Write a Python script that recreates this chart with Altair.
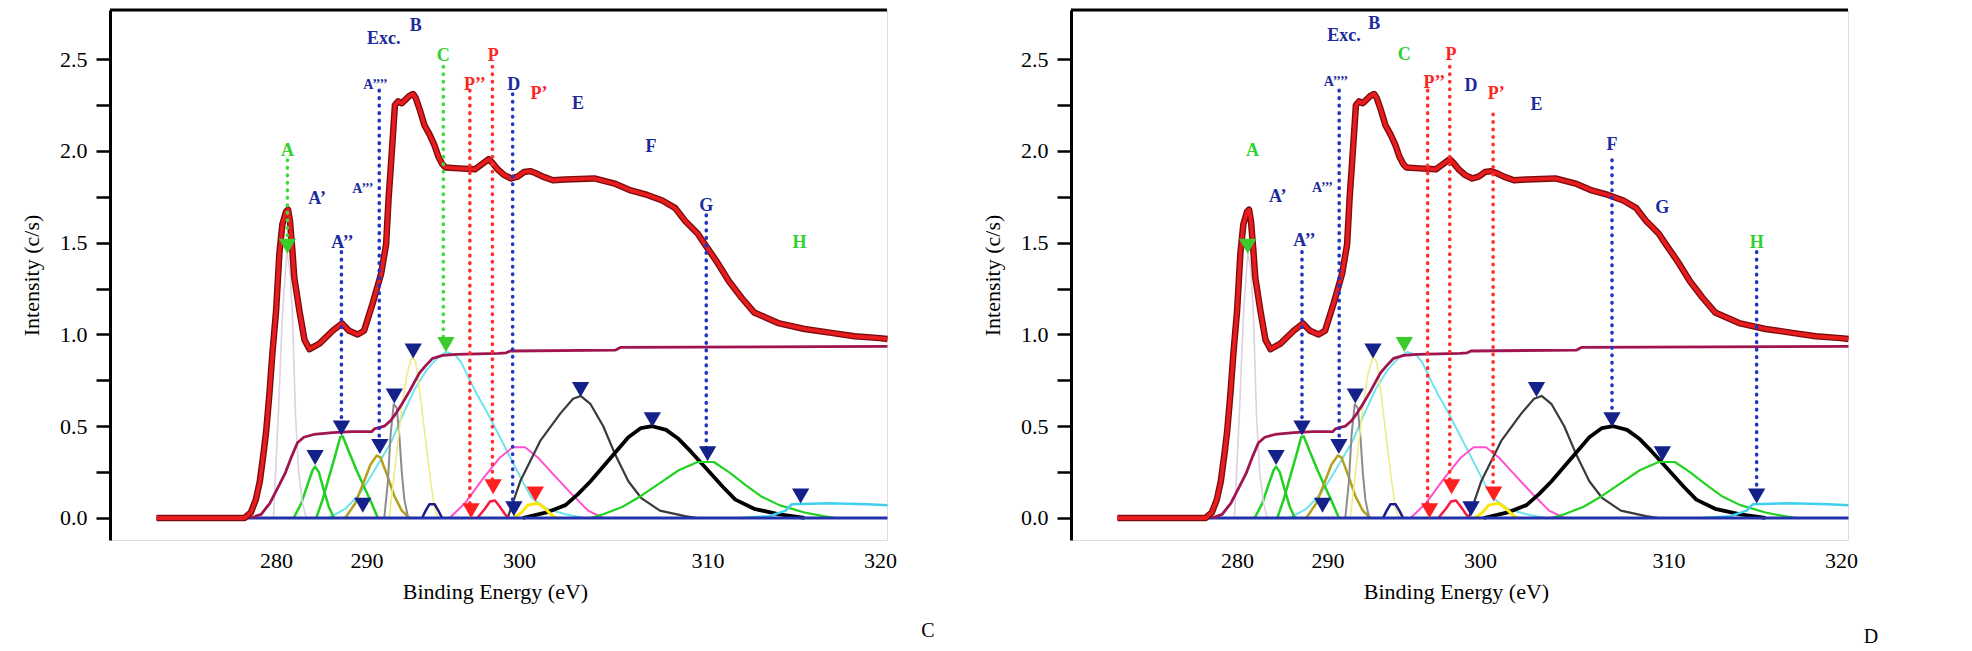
import altair as alt
import pandas as pd

# ---------------- data (binding energy eV, intensity c/s) ----------------
SPECTRUM = [(276.40, 0.00), (279.05, 0.00), (279.24, 0.03), (279.39, 0.10), (279.51, 0.20), (279.62, 0.35),
            (279.70, 0.47), (279.80, 0.68), (279.89, 0.90), (280.00, 1.13), (280.36, 1.44), (280.69, 1.60),
            (281.11, 1.67), (281.32, 1.68), (281.53, 1.62), (281.81, 1.45), (282.01, 1.31), (282.57, 1.13),
            (283.14, 0.97), (283.69, 0.92), (284.79, 0.95), (286.25, 1.02), (287.28, 1.06), (288.06, 1.02),
            (289.01, 1.00), (289.72, 1.02), (290.40, 1.17), (290.95, 1.33), (291.28, 1.49), (291.45, 1.75),
            (291.57, 1.89), (291.74, 2.10), (291.86, 2.25), (292.07, 2.27), (292.31, 2.26), (292.56, 2.28),
            (292.81, 2.30), (293.06, 2.31), (293.22, 2.29), (293.51, 2.22), (293.80, 2.14), (294.13, 2.09),
            (294.46, 2.03), (294.71, 1.97), (294.96, 1.93), (295.17, 1.91), (296.03, 1.905), (297.11, 1.90),
            (297.60, 1.93), (298.02, 1.955), (298.26, 1.935), (298.60, 1.90), (299.01, 1.87), (299.50, 1.85),
            (299.92, 1.86), (300.27, 1.885), (300.60, 1.89), (300.87, 1.88), (301.27, 1.86), (301.80, 1.84),
            (302.47, 1.845), (304.00, 1.85), (305.13, 1.82), (305.93, 1.785), (306.80, 1.76), (307.60, 1.73),
            (308.27, 1.69), (308.80, 1.62), (309.47, 1.55), (309.93, 1.48), (310.51, 1.40), (311.24, 1.29),
            (311.97, 1.20), (312.70, 1.12), (313.43, 1.09), (314.16, 1.06), (315.62, 1.03), (317.08, 1.01),
            (318.54, 0.99), (320.00, 0.98), (320.44, 0.975)]

BACKGROUND = [(279.24, 0.00), (279.55, 0.02), (279.81, 0.08), (280.14, 0.16), (280.97, 0.24), (281.67, 0.33),
              (282.36, 0.41), (283.06, 0.44), (284.17, 0.455), (286.25, 0.465), (288.33, 0.47), (290.33, 0.47),
              (290.50, 0.485), (291.16, 0.50), (291.57, 0.53), (291.93, 0.57), (292.31, 0.62), (292.81, 0.69),
              (293.14, 0.74), (293.47, 0.79), (293.88, 0.83), (294.34, 0.87), (295.00, 0.886), (295.87, 0.891),
              (298.68, 0.897), (299.17, 0.90), (299.42, 0.91), (305.13, 0.915), (305.40, 0.93), (320.44, 0.935)]

BASELINE = [(276.40, 0.0), (320.44, 0.0)]

PEAK_A = [(279.92, 0.0), (280.28, 0.6), (280.69, 1.1), (281.18, 1.45), (281.53, 1.35), (281.81, 1.1),
          (282.15, 0.55), (282.50, 0.25), (282.92, 0.08), (283.33, 0.0)]
PEAK_A1 = [(281.94, 0.0), (282.78, 0.08), (283.47, 0.18), (284.03, 0.26), (284.31, 0.28), (284.72, 0.25),
           (285.28, 0.15), (285.83, 0.06), (286.39, 0.0)]
PEAK_A2 = [(284.44, 0.0), (285.14, 0.10), (285.83, 0.22), (286.53, 0.34), (287.08, 0.44), (287.36, 0.445),
           (288.06, 0.36), (288.89, 0.26), (289.72, 0.17), (290.33, 0.08), (290.74, 0.0)]
PEAK_A3 = [(287.64, 0.0), (288.75, 0.08), (289.72, 0.20), (290.25, 0.29), (290.66, 0.34), (290.91, 0.33),
           (291.32, 0.24), (291.82, 0.12), (292.31, 0.04), (292.81, 0.0)]
PEAK_A4 = [(291.16, 0.0), (291.40, 0.20), (291.57, 0.45), (291.78, 0.62), (291.98, 0.60), (292.15, 0.45),
           (292.31, 0.25), (292.48, 0.10), (292.73, 0.0)]
PEAK_EXC = [(291.49, 0.0), (291.90, 0.30), (292.31, 0.60), (292.64, 0.78), (292.98, 0.88), (293.22, 0.85),
            (293.55, 0.65), (293.88, 0.42), (294.21, 0.20), (294.46, 0.05), (294.71, 0.0)]
PEAK_B = [(293.64, 0.0), (293.88, 0.04), (294.13, 0.075), (294.46, 0.075), (294.71, 0.04), (294.96, 0.0)]
PEAK_C = [(285.83, 0.0), (287.64, 0.05), (289.03, 0.12), (290.08, 0.20), (290.66, 0.28), (291.16, 0.35),
          (291.65, 0.42), (292.31, 0.55), (293.14, 0.70), (293.97, 0.81), (294.63, 0.87), (295.21, 0.904),
          (295.79, 0.89), (296.20, 0.85), (296.78, 0.75), (297.27, 0.67), (297.85, 0.586), (298.76, 0.44),
          (299.64, 0.296), (300.24, 0.19), (300.67, 0.11), (301.47, 0.05), (302.47, 0.02), (303.47, 0.0)]
PEAK_D = [(295.45, 0.0), (296.45, 0.08), (297.69, 0.22), (298.76, 0.33), (299.59, 0.385), (300.33, 0.385),
          (301.00, 0.33), (301.80, 0.24), (302.80, 0.13), (303.67, 0.04), (304.47, 0.0)]
PEAK_P = [(297.27, 0.0), (297.77, 0.05), (298.10, 0.09), (298.43, 0.095), (298.76, 0.06), (299.09, 0.02),
          (299.34, 0.0)]
PEAK_P1 = [(299.67, 0.0), (300.13, 0.03), (300.47, 0.07), (301.00, 0.08), (301.40, 0.05), (301.80, 0.01),
           (302.00, 0.0)]
PEAK_E = [(299.26, 0.0), (300.07, 0.20), (301.13, 0.42), (302.20, 0.57), (302.87, 0.65), (303.27, 0.665),
          (303.80, 0.62), (304.47, 0.50), (305.13, 0.34), (305.80, 0.20), (306.47, 0.11), (307.47, 0.04),
          (308.80, 0.01), (309.47, 0.0)]
PEAK_F = [(300.20, 0.0), (301.47, 0.03), (302.47, 0.07), (303.13, 0.13), (303.80, 0.20), (304.47, 0.28),
          (305.13, 0.36), (305.80, 0.44), (306.47, 0.49), (307.07, 0.50), (307.80, 0.48), (308.47, 0.43),
          (309.13, 0.36), (309.93, 0.27), (310.88, 0.17), (311.61, 0.10), (312.70, 0.05), (314.16, 0.02),
          (315.62, 0.0)]
PEAK_G = [(303.80, 0.0), (304.47, 0.02), (305.47, 0.06), (306.47, 0.12), (307.47, 0.19), (308.47, 0.26),
          (309.47, 0.305), (310.36, 0.305), (311.24, 0.25), (312.19, 0.18), (313.07, 0.12), (314.16, 0.07),
          (315.62, 0.03), (316.72, 0.01), (317.45, 0.0)]
PEAK_H = [(311.97, 0.0), (313.58, 0.01), (314.53, 0.04), (314.89, 0.075), (317.08, 0.08), (319.27, 0.075),
          (320.44, 0.07)]

# annotation labels: (text, eV, intensity, colour key)
LEFT_LABELS = [("A", 281.25, 2.00, "g"), ("A’", 284.54, 1.74, "b"), ("A’’", 287.32, 1.50, "b"),
               ("Exc.", 291.12, 2.61, "b"), ("B", 293.22, 2.68, "b"), ("C", 295.04, 2.52, "g"),
               ("P’’", 297.11, 2.36, "r"), ("P", 298.32, 2.52, "r"), ("D", 299.67, 2.36, "b"),
               ("P’", 301.07, 2.31, "r"), ("E", 303.13, 2.255, "b"), ("F", 307.00, 2.02, "b"),
               ("G", 309.93, 1.70, "b"), ("H", 315.33, 1.50, "g")]
LEFT_SMALL = [("A’’’", 289.58, 1.79, "b"), ("A’’’’", 290.58, 2.36, "b")]
RIGHT_LABELS = [("A", 281.71, 2.00, "g"), ("A’", 284.49, 1.75, "b"), ("A’’", 287.43, 1.51, "b"),
                ("Exc.", 291.07, 2.625, "b"), ("B", 293.06, 2.69, "b"), ("C", 295.04, 2.525, "g"),
                ("P’’", 297.01, 2.37, "r"), ("P", 298.10, 2.525, "r"), ("D", 299.42, 2.355, "b"),
                ("P’", 300.87, 2.31, "r"), ("E", 303.00, 2.25, "b"), ("F", 307.00, 2.03, "b"),
                ("G", 309.67, 1.69, "b"), ("H", 315.11, 1.50, "g")]
RIGHT_SMALL = [("A’’’", 289.44, 1.80, "b"), ("A’’’’", 290.55, 2.375, "b")]

# dotted drop lines: (eV, top, bottom, colour key)
LEFT_DROPS = [(281.25, 1.95, 1.52, "g"), (287.22, 1.45, 0.52, "b"), (290.83, 2.33, 0.42, "b"),
              (295.04, 2.46, 0.98, "g"), (296.78, 2.33, 0.06, "r"), (298.26, 2.46, 0.20, "r"),
              (299.59, 2.31, 0.08, "b"), (309.93, 1.65, 0.38, "b")]
RIGHT_DROPS = [(287.17, 1.45, 0.52, "b"), (290.76, 2.33, 0.42, "b"), (296.57, 2.33, 0.06, "r"),
               (298.02, 2.46, 0.20, "r"), (300.70, 2.20, 0.16, "r"), (307.00, 1.95, 0.56, "b"),
               (315.11, 1.45, 0.15, "b")]

# peak markers: (eV, intensity, colour key)
LEFT_MARKS = [(281.25, 1.48, "g"), (284.31, 0.33, "b"), (287.22, 0.49, "b"), (289.58, 0.07, "b"),
              (290.87, 0.39, "b"), (291.82, 0.665, "b"), (293.06, 0.91, "b"), (295.21, 0.945, "g"),
              (296.86, 0.04, "r"), (298.31, 0.17, "r"), (299.67, 0.05, "b"), (300.87, 0.13, "r"),
              (303.27, 0.70, "b"), (307.07, 0.535, "b"), (310.00, 0.35, "b"), (315.40, 0.12, "b")]
RIGHT_MARKS = [(281.17, 1.48, "g"), (284.31, 0.33, "b"), (287.17, 0.49, "b"), (289.44, 0.07, "b"),
               (290.74, 0.39, "b"), (291.82, 0.665, "b"), (292.98, 0.91, "b"), (295.04, 0.945, "g"),
               (296.69, 0.04, "r"), (298.14, 0.17, "r"), (299.42, 0.05, "b"), (300.73, 0.13, "r"),
               (303.00, 0.70, "b"), (307.00, 0.535, "b"), (309.67, 0.35, "b"), (315.11, 0.12, "b")]

X_TICKS = [280, 290, 300, 310, 320]
Y_TICKS = [0, 0.25, 0.5, 0.75, 1.0, 1.25, 1.5, 1.75, 2.0, 2.25, 2.5]

# ---------------- styling ----------------
FONT = "Liberation Serif"
W, H = 777, 530
XS = alt.Scale(domain=[275, 280, 290, 300, 310, 320], range=[0, 166.1, 256.6, 408.9, 597.6, 769.9],
               nice=False, zero=False)
YS = alt.Scale(domain=[-0.12, 2.768], nice=False, zero=False)
KEYS = ["b", "g", "r"]
TEXT_COL = alt.Scale(domain=KEYS, range=["#1c2a9e", "#2fd12f", "#ff2424"])
DROP_COL = alt.Scale(domain=KEYS, range=["#2136c4", "#3ddc3d", "#ff3030"])
MARK_COL = alt.Scale(domain=KEYS, range=["#14218a", "#3acc2a", "#ff1f1f"])

X_AXIS = alt.Axis(orient="bottom", values=X_TICKS, format="d", ticks=False, domain=False, grid=False,
                  labelFont=FONT, labelFontSize=22, labelColor="black", labelPadding=10, labelFlush=False,
                  title="Binding Energy (eV)", titleFont=FONT, titleFontSize=22, titleFontWeight="normal",
                  titleColor="black", titlePadding=10)
Y_AXIS = alt.Axis(values=Y_TICKS,
                  labelExpr="abs(datum.value*2 - round(datum.value*2)) < 0.001 ? format(datum.value, '.1f') : ''",
                  labelOverlap=False, grid=False, tickSize=14, tickWidth=2.5, tickColor="black",
                  domainColor="black", domainWidth=3, labelFont=FONT, labelFontSize=22, labelColor="black",
                  labelPadding=9, title="Intensity (c/s)", titleFont=FONT, titleFontSize=22,
                  titleFontWeight="normal", titleColor="black", titlePadding=16)

CURVES = [
    (PEAK_C, "#6fe4ee", 2.0), (PEAK_D, "#ff50d0", 2.0), (PEAK_E, "#3a3a3a", 2.2), (PEAK_F, "#000000", 3.8),
    (PEAK_G, "#22d122", 2.2), (PEAK_H, "#3fd0f0", 2.5), (PEAK_A1, "#22d122", 2.5), (PEAK_A2, "#22d122", 2.5),
    (PEAK_A3, "#b3a11e", 2.5), (PEAK_A4, "#8c8c8c", 2.0), (PEAK_EXC, "#efec86", 1.6), (PEAK_A, "#ddd2e2", 1.6),
    (PEAK_B, "#1a1a8c", 2.5), (PEAK_P, "#ff1744", 2.5), (PEAK_P1, "#ffe600", 3.0),
]


def xy(points):
    return pd.DataFrame(points, columns=["x", "y"])


def enc_xy():
    return dict(x=alt.X("x:Q", scale=XS, axis=X_AXIS), y=alt.Y("y:Q", scale=YS, axis=Y_AXIS))


def line(points, color, width):
    return alt.Chart(xy(points)).mark_line(color=color, strokeWidth=width, strokeJoin="round").encode(**enc_xy())


def panel(labels, small, drops, marks, letter, letter_x, letter_y):
    layers = [line(p, c, w) for p, c, w in CURVES]
    layers.append(line(BASELINE, "#2233aa", 3.0))
    layers.append(line(BACKGROUND, "#a01550", 2.8))
    layers.append(line(SPECTRUM, "#7a0c10", 6.5))
    layers.append(line(SPECTRUM, "#e81c1c", 3.8))

    ddf = pd.DataFrame(drops, columns=["x", "y", "y2", "c"])
    layers.append(alt.Chart(ddf).mark_rule(strokeWidth=3.6, strokeDash=[0.5, 7], strokeCap="round").encode(
        y2="y2:Q", color=alt.Color("c:N", scale=DROP_COL, legend=None), **enc_xy()))

    mdf = pd.DataFrame(marks, columns=["x", "y", "c"])
    layers.append(alt.Chart(mdf).mark_point(shape="triangle-down", filled=True, size=300, opacity=1).encode(
        color=alt.Color("c:N", scale=MARK_COL, legend=None), **enc_xy()))

    for lab, fs in ((labels, 18), (small, 14)):
        tdf = pd.DataFrame(lab, columns=["t", "x", "y", "c"])
        layers.append(alt.Chart(tdf).mark_text(font=FONT, fontSize=fs, fontWeight="bold").encode(
            text="t:N", color=alt.Color("c:N", scale=TEXT_COL, legend=None), **enc_xy()))

    # top frame line of the plot box
    layers.append(alt.Chart(pd.DataFrame({"k": [0]})).mark_rule(color="black", strokeWidth=3).encode(
        x=alt.value(0), x2=alt.value(W), y=alt.value(0)))

    layers.append(alt.Chart(pd.DataFrame({"t": [letter]})).mark_text(
        font=FONT, fontSize=20, color="black").encode(
        x=alt.value(letter_x), y=alt.value(letter_y), text="t:N"))

    return alt.layer(*layers).resolve_scale(color="independent").properties(width=W, height=H)


left = panel(LEFT_LABELS, LEFT_SMALL, LEFT_DROPS, LEFT_MARKS, "C", 818, 621)
right = panel(RIGHT_LABELS, RIGHT_SMALL, RIGHT_DROPS, RIGHT_MARKS, "D", 800, 627)

chart = alt.hconcat(left, right, spacing=184, bounds="flush").properties(
    padding={"left": 12, "top": 0, "right": 0, "bottom": 0}
).configure_view(stroke=None).configure(background="white")

chart.save("out.html", embed_options={"renderer": "svg", "actions": False})
